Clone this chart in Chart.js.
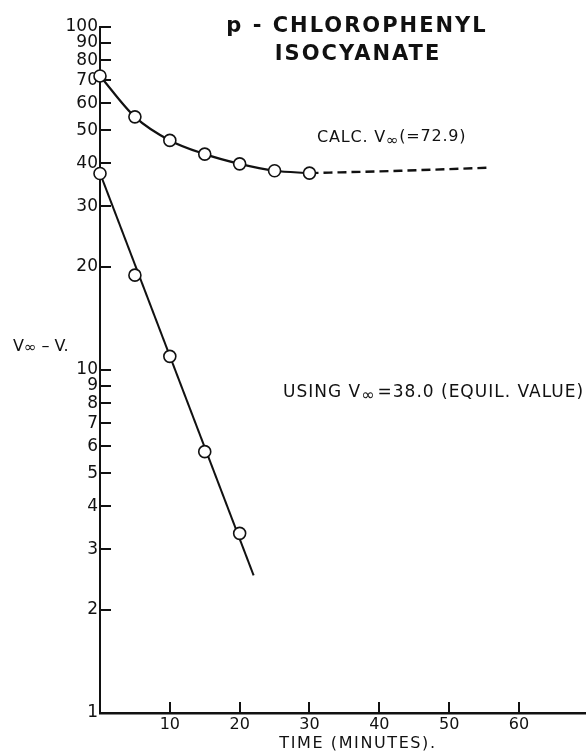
<!DOCTYPE html>
<html>
<head>
<meta charset="utf-8">
<script src="https://cdn.jsdelivr.net/npm/chart.js@4.4.0/dist/chart.umd.min.js"></script>
<style>
  body { margin: 0; background: #fff; }
  canvas { display: block; }
</style>
</head>
<body>
<canvas id="myChart" width="586" height="751"></canvas>
<script>
// values (time in minutes, V∞ - V on log axis)
var calcTimes = [0, 5, 10, 15, 20, 25, 30];
var calcValues = [72, 54.7, 46.7, 42.6, 39.9, 38.1, 37.5];
var calcDashTimes = [30, 43, 56];
var calcDashValues = [37.5, 38.1, 38.9];

var equilTimes = [0, 5, 10, 15, 20];
var equilValues = [37.4, 18.9, 10.96, 5.78, 3.34];
var equilLineTimes = [0, 22];
var equilLineValues = [37.5, 2.52];

var xTicks = [0, 10, 20, 30, 40, 50, 60];
var yTicks = [1, 2, 3, 4, 5, 6, 7, 8, 9, 10, 20, 30, 40, 50, 60, 70, 80, 90, 100];

var ink = '#111';

function pts(xs, ys) {
  return xs.map(function(x, i) { return {x: x, y: ys[i]}; });
}

// little helper to write text in pieces (for the V∞ subscripts)
function drawParts(ctx, x, y, parts) {
  parts.forEach(function(p) {
    ctx.font = (p.bold ? 'bold ' : '') + p.size + 'px "DejaVu Sans"';
    ctx.fillText(p.t, x, y + (p.dy || 0));
    x += ctx.measureText(p.t).width + (p.gap || 0);
  });
}

var annotate = {
  id: 'annotate',
  beforeDatasetsDraw: function(chart) {
    var ctx = chart.ctx, area = chart.chartArea;
    var xs = chart.scales.x, ys = chart.scales.y;
    ctx.save();
    ctx.strokeStyle = ink;
    ctx.lineWidth = 2;
    ctx.beginPath();
    yTicks.forEach(function(v) {
      if (v === 1) return;
      var py = Math.round(ys.getPixelForValue(v));
      ctx.moveTo(area.left, py);
      ctx.lineTo(area.left + 11, py);
    });
    xTicks.forEach(function(v) {
      if (v === 0) return;
      var px = Math.round(xs.getPixelForValue(v));
      ctx.moveTo(px, area.bottom);
      ctx.lineTo(px, area.bottom - 11);
    });
    ctx.stroke();
    ctx.restore();
  },
  afterDraw: function(chart) {
    var ctx = chart.ctx;
    ctx.save();
    ctx.fillStyle = ink;
    ctx.textBaseline = 'alphabetic';

    // title
    ctx.textAlign = 'center';
    ctx.letterSpacing = '2px';
    ctx.font = 'bold 21px "DejaVu Sans"';
    ctx.fillText('p - CHLOROPHENYL', 357, 32);
    ctx.fillText('ISOCYANATE', 358, 60);

    // x axis title
    ctx.letterSpacing = '1.6px';
    ctx.font = '16px "DejaVu Sans"';
    ctx.fillText('TIME (MINUTES).', 358, 748);

    ctx.textAlign = 'left';
    ctx.letterSpacing = '0.8px';
    drawParts(ctx, 317, 142, [
      {t: 'CALC. V', size: 16},
      {t: '∞', size: 15, dy: 3},
      {t: '(=72.9)', size: 16, dy: -1}
    ]);
    ctx.letterSpacing = '1px';
    drawParts(ctx, 283, 397, [
      {t: 'USING V', size: 17},
      {t: '∞', size: 16, dy: 3, gap: 2},
      {t: '=38.0 (EQUIL. VALUE)', size: 17}
    ]);
    ctx.letterSpacing = '0px';
    drawParts(ctx, 13, 351, [
      {t: 'V', size: 16},
      {t: '∞', size: 15, dy: 1},
      {t: ' – V.', size: 16}
    ]);
    ctx.restore();
  }
};

Chart.defaults.font.family = '"DejaVu Sans"';
Chart.defaults.color = ink;

var ctx = document.getElementById('myChart').getContext('2d');
var chart = new Chart(ctx, {
  type: 'line',
  data: {
    datasets: [
      {
        // circles, equilibrium V∞
        data: pts(equilTimes, equilValues),
        showLine: false,
        pointRadius: 6,
        pointBackgroundColor: '#fff',
        pointBorderColor: ink,
        pointBorderWidth: 1.6,
        clip: false
      },
      {
        data: pts(calcTimes, calcValues),
        borderColor: ink,
        borderWidth: 2.2,
        cubicInterpolationMode: 'monotone',
        pointRadius: 6,
        pointBackgroundColor: '#fff',
        pointBorderColor: ink,
        pointBorderWidth: 1.6,
        clip: false
      },
      {
        data: pts(equilLineTimes, equilLineValues),
        borderColor: ink,
        borderWidth: 2,
        pointRadius: 0,
        clip: false
      },
      {
        data: pts(calcDashTimes, calcDashValues),
        borderColor: ink,
        borderWidth: 2.4,
        borderDash: [9, 5],
        cubicInterpolationMode: 'monotone',
        pointRadius: 0,
        clip: false
      }
    ]
  },
  options: {
    responsive: false,
    animation: false,
    layout: { autoPadding: false, padding: { top: 27, left: 0, right: 0, bottom: 0 } },
    plugins: { legend: { display: false }, tooltip: { enabled: false } },
    scales: {
      x: {
        type: 'linear',
        min: 0,
        max: 69.6,
        grid: { display: false, drawTicks: false },
        border: { display: true, color: ink, width: 2.5 },
        afterBuildTicks: function(scale) {
          scale.ticks = xTicks.map(function(v) { return {value: v}; });
        },
        afterFit: function(scale) {
          scale.height = 38;
          scale.paddingLeft = 0;
          scale.paddingRight = 0;
        },
        ticks: {
          padding: 2,
          autoSkip: false,
          maxRotation: 0,
          font: { size: 16 },
          callback: function(v) { return v === 0 ? '' : String(v); }
        }
      },
      y: {
        type: 'logarithmic',
        min: 1,
        max: 100,
        grid: { display: false, drawTicks: false },
        border: { display: true, color: ink, width: 2 },
        afterBuildTicks: function(scale) {
          scale.ticks = yTicks.map(function(v) { return {value: v}; });
        },
        afterFit: function(scale) { scale.width = 100; },
        ticks: {
          padding: 2,
          autoSkip: false,
          font: { size: 17 },
          callback: function(v) { return String(v); }
        }
      }
    }
  },
  plugins: [annotate]
});
</script>
</body>
</html>
